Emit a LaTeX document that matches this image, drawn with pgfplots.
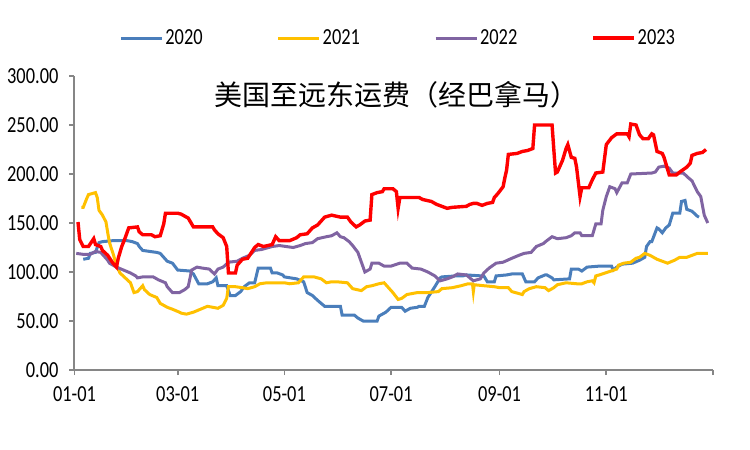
\documentclass[border=0pt]{standalone}
\usepackage{fontspec}
\setmainfont{Carlito}[FakeStretch=0.8]
\newfontfamily\cjk{Noto Sans CJK SC}
\usepackage{pgfplots}
\pgfplotsset{compat=1.18}

\definecolor{c2020}{RGB}{74,126,187}
\definecolor{c2021}{RGB}{255,192,0}
\definecolor{c2022}{RGB}{128,100,162}
\definecolor{c2023}{RGB}{255,0,0}
\definecolor{axgray}{RGB}{134,134,134}

\begin{document}
\begin{tikzpicture}
\path[use as bounding box] (-37.25pt,-40pt) rectangle (337.75pt,185pt);
\begin{axis}[
    at={(0,0)}, anchor=south west,
    scale only axis, width=319.25pt, height=147pt,
    xmin=0, xmax=365, ymin=0, ymax=300,
    axis lines=left,
    axis line style={-, draw=axgray, line width=1pt},
    tick align=outside, major tick length=2.5pt,
    tick style={draw=axgray, line width=0.8pt},
    xtick={0,59,120,181,243,304,365},
    xticklabels={01-01,03-01,05-01,07-01,09-01,11-01,{}},
    ytick={0,50,...,300},
    tick label style={font=\fontsize{11.5}{13}\selectfont},
    xticklabel style={yshift=-2.5pt},
    y tick label style={xshift=-2pt, /pgf/number format/.cd, fixed, fixed zerofill, precision=2, assume math mode=true},
    title={\cjk 美国至远东运费（经巴拿马）},
    title style={at={(0.505,0.894)}, anchor=center, font=\fontsize{14}{16}\selectfont},
    legend columns=4,
    legend style={at={(0.507,1.129)}, anchor=center, draw=none, fill=none,
        font=\fontsize{11.5}{13}\selectfont, nodes={inner xsep=1pt},
        /tikz/every even column/.append style={column sep=36pt}},
    legend image code/.code={\draw[#1] (0pt,0pt) -- (20.5pt,0pt);},
]

% 2020
\addplot[c2020, line width=1.5pt] coordinates {
(5,113)(8,114)(9,119)(12,120)(14,130)(16,131)(22,132)(30,132)(33,131)(36,129)(37,126)(39,122)
(47,120)(49,119)(51,115)(53,111)(56,109)(59,102)(66,101)(68,98)(71,88)(76,88)(79,90)(81,94)
(82,86)(87,86)(89,76)(92,76)(95,80)(97,85)(100,89)(103,89)(105,104)(112,104)(113,99)(116,99)
(119,97)(120,95)(127,93)(131,90)(133,79)(136,76)(139,71)(141,68)(143,65)(152,65)(153,56)
(160,56)(162,53)(165,50)(173,50)(174,55)(178,59)(181,64)(187,64)(189,60)(192,63)(196,64)
(197,65)(200,65)(202,74)(206,85)(209,94)(210,95)(218,96)(222,96)(224,97)(233,96)(234,96)
(236,90)(240,90)(241,96)(247,97)(250,98)(256,98)(257,94)(258,90)(263,90)(265,94)(269,97)
(270,97)(273,94)(274,92)(283,93)(284,103)(288,103)(290,101)(293,105)(300,106)(307,106)
(308,102)(310,105)(313,108)(319,109)(323,112)(326,115)(327,126)(329,131)(330,131)(333,145)
(334,144)(336,140)(338,145)(340,148)(342,160)(346,160)(347,172)(349,173)(350,164)(353,162)
(356,157)(357,156)
};
\addlegendentry{2020}

% 2021
\addplot[c2021, line width=1.5pt] coordinates {
(4,166)(5,166)(7,175)(8,179)(12,181)(13,176)(14,163)(16,158)(18,151)(19,140)(20,130)(22,119)
(24,107)(26,99)(29,94)(32,89)(34,79)(36,80)(39,86)(40,82)(43,77)(47,74)(49,68)(53,64)(56,62)
(60,59)(61,58)(64,57)(68,59)(72,62)(76,65)(79,64)(82,63)(85,66)(87,73)(88,85)(92,85)(96,84)
(99,83)(103,85)(106,88)(110,89)(115,89)(120,89)(123,88)(128,89)(131,95)(137,95)(141,93)
(144,89)(147,90)(150,90)(156,89)(157,87)(159,83)(164,81)(167,85)(170,86)(174,88)(177,89)
(179,85)(182,79)(185,72)(187,73)(190,77)(196,79)(202,79)(208,80)(210,83)(216,84)(221,86)
(225,88)(227.5,88)(228,80)(228.5,87)(234,86)(240,85)(243,84)(248,84)(250,80)(256,77)(257,80)
(260,83)(264,85)(269,84)(271,81)(274,84)(276,87)(281,89)(287,88)(290,88)(293,90)(296,91)
(297,89)(298,96)(300,97)(310,103)(311,107)(314,109)(318,110)(321,114)(323,115)(326,119)
(329,117)(333,113)(339,109)(343,112)(346,115)(350,115)(353,117)(356,119)(362,119)
};
\addlegendentry{2021}

% 2022
\addplot[c2022, line width=1.5pt] coordinates {
(1,119)(5,118)(9,118)(12,121)(15,120)(16,118)(19,112)(20,109)(24,105)(28,102)(32,99)(35,96)
(36,94)(39,95)(45,95)(48,92)(52,89)(53,85)(56,79)(60,79)(63,82)(65,85)(67,102)(70,105)
(73,104)(77,103)(80,98)(82,103)(85,105)(88,110)(93,111)(96,114)(100,117)(103,122)(107,123)
(113,126)(117,127)(125,125)(129,127)(132,129)(136,130)(139,134)(144,136)(147,137)(150,140)
(152,136)(154,135)(157,131)(159,127)(162,120)(164,110)(166,100)(169,103)(170,109)(174,109)
(177,106)(181,106)(186,109)(190,109)(193,104)(198,103)(202,100)(206,96)(209,91)(213,93)
(216,95)(219,98)(224,97)(228,91)(232,93)(234,99)(237,104)(241,109)(245,110)(250,114)
(254,117)(257,119)(261,120)(264,126)(268,129)(270,132)(273,136)(276,134)(281,135)(284,137)
(286,140)(289,140)(290,137)(296,137)(298,149)(301,149)(302,163)(304,177)(306,187)(309,185)
(310,181)(313,191)(316,191)(318,200)(330,201)(332,202)(334,207)(337,208)(340,206)(342,201)
(348,201)(351,196)(353,193)(356,182)(358,177)(360,158)(362,150)
};
\addlegendentry{2022}

% 2023
\addplot[c2023, line width=1.7pt] coordinates {
(2,151)(3,133)(5,126)(8,126)(11,134)(12,128)(15,126)(16,122)(19,117)(22,109)(24,105)(25,114)
(27,126)(29,135)(31,145)(36,146)(37,141)(39,138)(44,138)(46,136)(49,137)(51,149)(52,160)
(59,160)(61,159)(65,155)(68,146)(79,146)(80,143)(82,139)(85,135)(87,126)(88,99)(92,99)
(93,107)(96,113)(99,114)(103,125)(105,128)(108,126)(113,128)(115,136)(117,132)(120,132)
(123,132)(127,135)(129,138)(133,139)(136,145)(139,148)(143,156)(147,158)(152,156)(156,156)
(158,151)(161,146)(163,148)(166,152)(169,153)(170,179)(173,181)(176,182)(177,185)(182,185)
(184,182)(185,165)(186,176)(197,176)(199,174)(204,172)(207,169)(210,167)(213,165)(216,166)
(224,167)(226,169)(228,170)(230,170)(233,168)(236,170)(239,171)(240,176)(242,180)(245,187)
(246,196)(247,204)(248,220)(253,221)(256,223)(259,224)(262,226)(263,250)(273,250)(274,225)
(275,201)(276,202)(279,214)(281,226)(282,230)(284,217)(286,216)(287,207)(289,177)(290,186)
(294,186)(296,194)(298,201)(302,202)(304,230)(307,237)(310,241)(316,241)(317,238)(318,251)
(321,250)(323,240)(325,236)(328,236)(330,241)(331,240)(333,223)(336,221)(337,217)(340,199)
(344,199)(346,202)(350,207)(352,211)(353,219)(356,221)(359,222)(361,225)
};
\addlegendentry{2023}

\end{axis}
\end{tikzpicture}
\end{document}
